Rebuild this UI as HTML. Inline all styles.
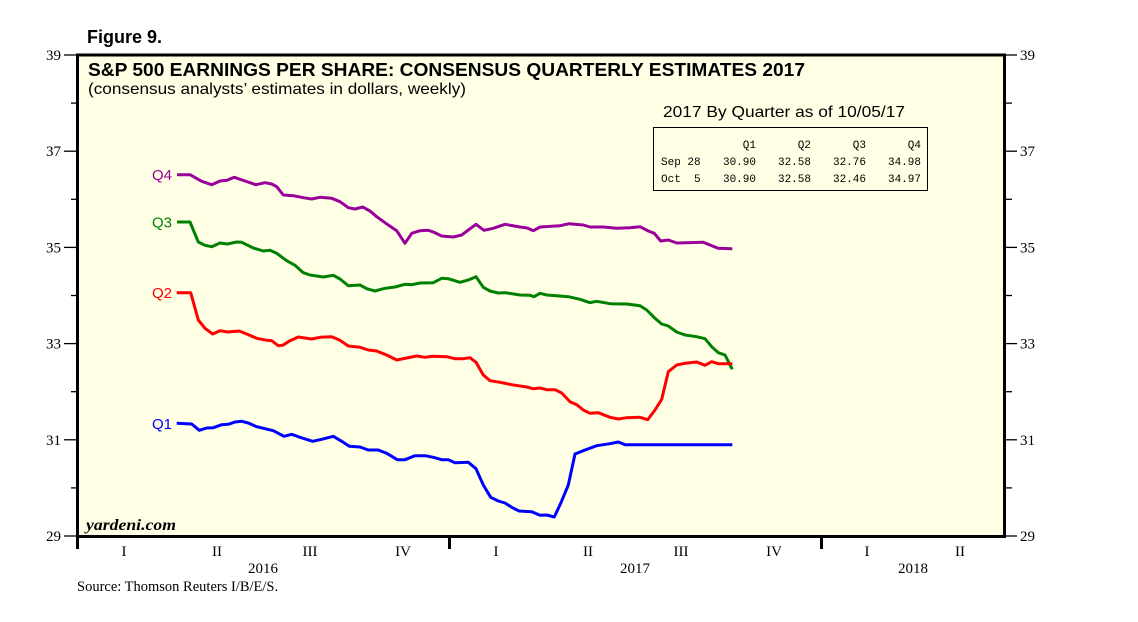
<!DOCTYPE html>
<html>
<head>
<meta charset="utf-8">
<style>
  html,body{margin:0;padding:0;background:#ffffff;}
  svg{display:block;}
  .sans{font-family:"Liberation Sans",Arial,sans-serif;}
  .serif{font-family:"Liberation Serif","Times New Roman",serif;}
  .mono{font-family:"Liberation Mono","Courier New",monospace;}
</style>
</head>
<body>
<svg width="1138" height="622" viewBox="0 0 1138 622" xmlns="http://www.w3.org/2000/svg">
  <rect x="0" y="0" width="1138" height="622" fill="#ffffff"/>

  <!-- Figure label -->
  <text x="87" y="43" class="sans" font-size="18" font-weight="bold" fill="#000">Figure 9.</text>

  <!-- Plot area -->
  <rect x="77.5" y="55" width="927" height="481.5" fill="#FFFFE5" stroke="none"/>

  <!-- Titles -->
  <text x="88" y="76" class="sans" font-size="18" font-weight="bold" fill="#000" textLength="717" lengthAdjust="spacingAndGlyphs">S&amp;P 500 EARNINGS PER SHARE: CONSENSUS QUARTERLY ESTIMATES 2017</text>
  <text x="88" y="94" class="sans" font-size="16" fill="#000" textLength="378" lengthAdjust="spacingAndGlyphs">(consensus analysts’ estimates in dollars, weekly)</text>

  <!-- Legend table -->
  <text x="663" y="117" class="sans" font-size="16" fill="#000" textLength="242" lengthAdjust="spacingAndGlyphs">2017 By Quarter as of 10/05/17</text>
  <rect x="653.5" y="127.5" width="274" height="63" fill="none" stroke="#000" stroke-width="1"/>
  <g class="mono" font-size="11" fill="#000" text-anchor="end">
    <text x="756" y="148">Q1</text>
    <text x="811" y="148">Q2</text>
    <text x="866" y="148">Q3</text>
    <text x="921" y="148">Q4</text>
    <text x="756" y="165">30.90</text>
    <text x="811" y="165">32.58</text>
    <text x="866" y="165">32.76</text>
    <text x="921" y="165">34.98</text>
    <text x="756" y="182">30.90</text>
    <text x="811" y="182">32.58</text>
    <text x="866" y="182">32.46</text>
    <text x="921" y="182">34.97</text>
  </g>
  <g class="mono" font-size="11" fill="#000">
    <text x="661" y="165" xml:space="preserve">Sep 28</text>
    <text x="661" y="182" xml:space="preserve">Oct  5</text>
  </g>

  <!-- Series -->
  <g fill="none" stroke-width="3" stroke-linejoin="round" stroke-linecap="butt">
    <polyline stroke="#990099" points="177,174.7 190,174.7 201.7,181.3 211.7,184.7 220,181 227,180.3 234.3,177.3 245,181 256,184.7 265,182.7 271.7,184 276.7,186.7 283.3,195 293.3,195.7 303.3,197.7 311.7,199 320,197.3 331.7,198.3 340,201.7 348.3,207.7 355,209 362.7,207 370,211 376.7,216.7 385,222.7 396.7,230.7 405,243.3 411.7,233.3 420,230.7 428.3,230.3 433.3,232 441.7,236 453.3,237 461.7,235 476,224.3 484,230.3 493.3,228.3 505,224.3 520,227 527.3,228 533.3,230.7 540,227 560,225.7 569.3,223.7 583.3,225 590,227 603.3,227 616.7,228.3 630,227.7 640,226.7 648.3,231 654.3,233.3 660.7,241 668.3,240 676.7,243 703.3,242.3 710,245 718.3,248.3 732.3,248.7"/>
    <polyline stroke="#008000" points="177,222 190,222 198.3,242 205,245.3 211.7,246.7 220,243 227.3,244 236.7,242 241.7,242.3 253.3,248 263.3,251 270,250.3 276.7,253.3 286.7,260.7 295,265.3 303.3,272.7 310,275 323.3,277 333.3,275.3 340,279 348.3,285.7 360,285 366.7,288.7 375,291 385,288.3 395,287 405,284.3 411.7,284.7 420,283 433.3,282.7 441.7,278.3 448.3,278.7 460,282.3 468.3,280 476,276.7 483.3,287.3 490,291 498.3,293 505,292.7 520,295 530,295.3 534,296.7 540,293.3 546.7,295 556.7,295.7 568.3,296.7 580,299.3 590,302.7 596.7,301.3 610,303.7 626.7,304 640,305.7 646.7,310 655,318.3 661.7,324 668.3,326 676.7,332 685,335 696.7,336.7 705,338.7 711.7,346.7 718.3,352.7 725,355 732.3,369.3"/>
    <polyline stroke="#FF0000" points="176.7,292.7 190.7,292.7 198.3,320 205,328.3 212.7,334 220,330.7 227.3,332 239.3,331 246.7,334 256.7,338.3 266.7,340.3 271.7,340.7 278.3,345.7 282.7,345.3 290,340.7 298.3,337 311.7,339 320,337.3 331.7,336.7 340,340.3 348.3,346 360,347.3 368.3,350 376.7,351 386.7,355 396.7,360 406.7,358 416.7,356 425,357.3 433.3,356.3 446.7,356.7 455,358.7 463.3,358.7 470,357.7 476,362.3 483.3,375 490,380.7 500,382.3 511.7,384.7 526.7,387 533.3,388.7 540,388 546.7,389.7 555,389.7 561.7,393 570,401.7 576.7,404.7 583.3,410 590,413.3 598.3,412.7 610,417.3 618.3,419 626.7,417.7 640,417.3 647.7,419.7 655,410 661.7,399.3 668.3,371.7 676.7,365 685,363.3 696.7,362 705,365.3 711.7,361.7 718.3,363.7 732.3,363.7"/>
    <polyline stroke="#0000FF" points="176.7,423.3 191.7,424 199.3,430.3 206.7,428 213.3,427.7 221.7,424.7 228.3,424.3 235,422 241.7,421.3 248.3,423 256.7,426.7 265,428.7 273.3,430.7 284,436.3 291.7,434.3 300,437.3 312.7,441.3 321.7,439.3 333.3,436.3 341.7,441.3 349.3,446.3 360,447 368.3,450 378.3,450 386.7,453.3 397.3,459.7 405,459.7 415,455.7 425,455.7 433.3,457.3 441.7,459.7 448.3,459.7 455,462.7 468.3,462.3 476,468.7 483.3,485 490.7,497.3 498.3,501 505,503 511.7,507.3 519,511 531.7,511.7 540,515.3 546.7,515 554.3,517 560.7,503.3 568.3,485 575,454 583.3,450.7 596.7,445.7 610,443.7 618.3,442 625,444.7 732.3,444.7"/>
  </g>

  <!-- Series labels -->
  <g class="sans" font-size="15" text-anchor="end">
    <text x="172" y="180" fill="#990099">Q4</text>
    <text x="172" y="227.5" fill="#008000">Q3</text>
    <text x="172" y="298" fill="#FF0000">Q2</text>
    <text x="172" y="429" fill="#0000FF">Q1</text>
  </g>

  <!-- yardeni.com -->
  <text x="86" y="530" class="serif" font-size="16" font-weight="bold" font-style="italic" fill="#000" textLength="90" lengthAdjust="spacingAndGlyphs">yardeni.com</text>

  <!-- Frame -->
  <rect x="77.5" y="55" width="927" height="481.5" fill="none" stroke="#000" stroke-width="3"/>

  <!-- Left ticks -->
  <g stroke="#000" stroke-width="1.3">
    <line x1="64" y1="55" x2="77" y2="55"/>
    <line x1="71" y1="103.1" x2="77" y2="103.1"/>
    <line x1="64" y1="151.2" x2="77" y2="151.2"/>
    <line x1="71" y1="199.3" x2="77" y2="199.3"/>
    <line x1="64" y1="247.4" x2="77" y2="247.4"/>
    <line x1="71" y1="295.5" x2="77" y2="295.5"/>
    <line x1="64" y1="343.6" x2="77" y2="343.6"/>
    <line x1="71" y1="391.7" x2="77" y2="391.7"/>
    <line x1="64" y1="439.8" x2="77" y2="439.8"/>
    <line x1="71" y1="487.9" x2="77" y2="487.9"/>
    <line x1="64" y1="536" x2="77" y2="536"/>
  </g>
  <!-- Right ticks -->
  <g stroke="#000" stroke-width="1.3">
    <line x1="1005" y1="55" x2="1017" y2="55"/>
    <line x1="1005" y1="103.1" x2="1012" y2="103.1"/>
    <line x1="1005" y1="151.2" x2="1017" y2="151.2"/>
    <line x1="1005" y1="199.3" x2="1012" y2="199.3"/>
    <line x1="1005" y1="247.4" x2="1017" y2="247.4"/>
    <line x1="1005" y1="295.5" x2="1012" y2="295.5"/>
    <line x1="1005" y1="343.6" x2="1017" y2="343.6"/>
    <line x1="1005" y1="391.7" x2="1012" y2="391.7"/>
    <line x1="1005" y1="439.8" x2="1017" y2="439.8"/>
    <line x1="1005" y1="487.9" x2="1012" y2="487.9"/>
    <line x1="1005" y1="536" x2="1017" y2="536"/>
  </g>

  <!-- Y labels -->
  <g class="serif" font-size="15" fill="#000" text-anchor="end">
    <text x="61" y="60">39</text>
    <text x="61" y="156.2">37</text>
    <text x="61" y="252.4">35</text>
    <text x="61" y="348.6">33</text>
    <text x="61" y="444.8">31</text>
    <text x="61" y="541">29</text>
  </g>
  <g class="serif" font-size="15" fill="#000">
    <text x="1020" y="60">39</text>
    <text x="1020" y="156.2">37</text>
    <text x="1020" y="252.4">35</text>
    <text x="1020" y="348.6">33</text>
    <text x="1020" y="444.8">31</text>
    <text x="1020" y="541">29</text>
  </g>

  <!-- X axis year dividers -->
  <g stroke="#000" stroke-width="3">
    <line x1="77.5" y1="536" x2="77.5" y2="549"/>
    <line x1="449.5" y1="536" x2="449.5" y2="549"/>
    <line x1="821.5" y1="536" x2="821.5" y2="549"/>
  </g>

  <!-- X labels -->
  <g class="serif" font-size="15" fill="#000" text-anchor="middle">
    <text x="124" y="556">I</text>
    <text x="217" y="556">II</text>
    <text x="310" y="556">III</text>
    <text x="403" y="556">IV</text>
    <text x="496" y="556">I</text>
    <text x="588" y="556">II</text>
    <text x="681" y="556">III</text>
    <text x="774" y="556">IV</text>
    <text x="867" y="556">I</text>
    <text x="960" y="556">II</text>
    <text x="263" y="573">2016</text>
    <text x="635" y="573">2017</text>
    <text x="913" y="573">2018</text>
  </g>

  <text x="77" y="591" class="serif" font-size="14.5" fill="#000">Source: Thomson Reuters I/B/E/S.</text>
</svg>
</body>
</html>
